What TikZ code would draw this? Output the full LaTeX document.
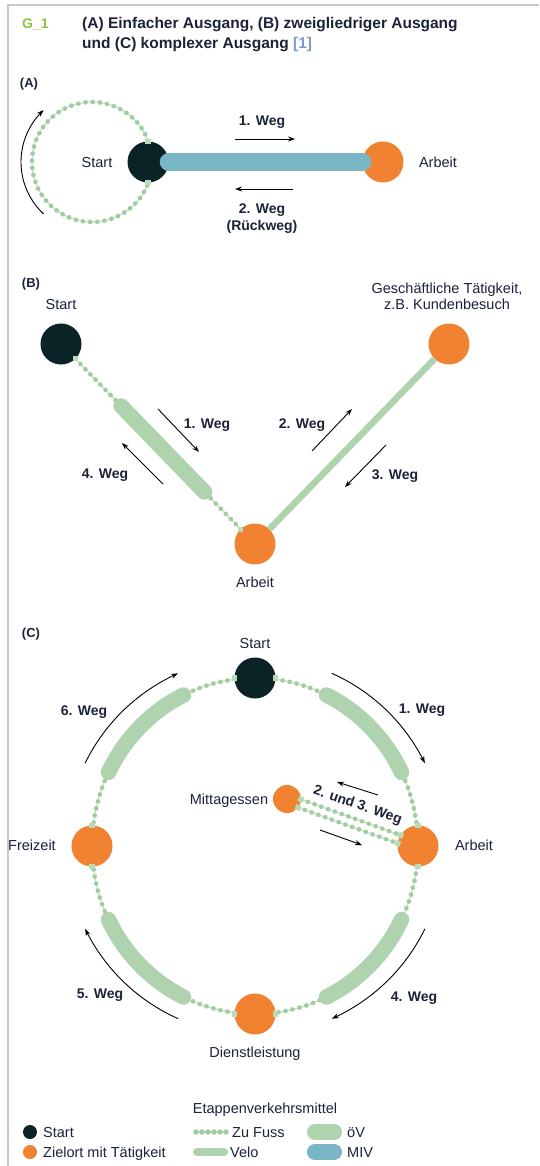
\documentclass[tikz,border=0pt]{standalone}
\usepackage{fontspec}
\setmainfont{Liberation Sans}
\usetikzlibrary{calc,arrows.meta}
\definecolor{startcol}{HTML}{0B2226}
\definecolor{zielcol}{HTML}{F08232}
\definecolor{oevcol}{HTML}{AED3AE}
\definecolor{fusscol}{HTML}{A0CDA0}
\definecolor{fusslinecol}{HTML}{C4E2C4}
\definecolor{sqcol}{HTML}{B8DCB8}
\definecolor{mivcol}{HTML}{78B5C5}
\definecolor{txtcol}{HTML}{1C2338}
\definecolor{framecol}{HTML}{C8C8C8}
\definecolor{gcol}{HTML}{8CC63F}
\definecolor{refcol}{HTML}{7D9CC8}
\begin{document}
\begin{tikzpicture}[x=1pt,y=-1pt,
  every node/.style={text=txtcol},
  lbl/.style={font=\fontsize{14.5}{16}\selectfont, inner sep=0pt, text height=10.4pt, text depth=0pt},
  wlbl/.style={font=\bfseries\fontsize{14}{16}\selectfont, inner sep=0pt, text height=10.2pt, text depth=0pt},
  seclbl/.style={font=\bfseries\fontsize{13}{15}\selectfont, inner sep=0pt, text height=9.4pt, text depth=0pt},
  startdot/.style={circle, fill=startcol, minimum size=41pt, inner sep=0pt},
  zieldot/.style={circle, fill=zielcol, minimum size=41pt, inner sep=0pt},
  fuss/.style={draw=fusscol, line width=4.7pt, line cap=round, dash pattern=on 0pt off 7.2pt,
     preaction={draw=fusslinecol, line width=1.2pt, solid, line cap=butt}},
  velo/.style={draw=oevcol, line width=6.5pt},
  oev/.style={draw=oevcol, line width=15.5pt, line cap=round},
  miv/.style={draw=mivcol, line width=18pt, line cap=round},
  sqmark/.style={rectangle, fill=sqcol, minimum size=5.5pt, inner sep=0pt},
  warrow/.style={draw=black, line width=0.9pt, -{Stealth[length=7pt,width=5pt]}},
]
\useasboundingbox (0,0) rectangle (539,1166);
\fill[white] (0,0) rectangle (539,1166);
\draw[framecol, line width=2pt] (8,1166) -- (8,5) -- (539,5);

% header
\node[font=\bfseries\fontsize{14}{16}\selectfont, text=gcol, anchor=base west, inner sep=0pt] (g1) at (22,29) {G\_1};
\node[font=\bfseries\fontsize{15.5}{20}\selectfont, anchor=base west, inner sep=0pt] (title1) at (82,29)
  {(A) Einfacher Ausgang, (B) zweigliedriger Ausgang};
\node[font=\bfseries\fontsize{15.5}{20}\selectfont, anchor=base west, inner sep=0pt] (title2) at (82,49)
  {und (C) komplexer Ausgang {\color{refcol}[1]}};

% ---------------- (A)
\node[seclbl] (labA) at (29,83) {(A)};
\node[startdot] (startA) at (148,162) {};
\node[zieldot] (arbA) at (383,162) {};
\draw[fuss] plot[domain=-20.6:-339.4, samples=80] ({92+60*cos(\x)},{162+60*sin(\x)});
\draw[miv] (startA) -- (arbA);
\node[sqmark] (sqA1) at (startA.north) {};
\node[sqmark] (sqA2) at (startA.south) {};
\draw[warrow] plot[domain=133:227, samples=40] ({92+71*cos(\x)},{162+71*sin(\x)});
\node[lbl] (tStartA) at (97,162) {Start};
\node[lbl] (tArbA) at (438,162) {Arbeit};
\node[wlbl] (w1A) at (262,120) {1. Weg};
\coordinate (a1s) at (235,139); \coordinate (a1e) at (295,139);
\draw[warrow] (a1s) -- (a1e);
\coordinate (a2s) at (293,189); \coordinate (a2e) at (235,189);
\draw[warrow] (a2s) -- (a2e);
\node[font=\bfseries\fontsize{14}{17}\selectfont, align=center, inner sep=0pt] (w2A) at (262,219) {2. Weg\\(Rückweg)};

% ---------------- (B)
\node[seclbl] (labB) at (31,283) {(B)};
\node[startdot] (startB) at (61,344) {};
\node[zieldot] (gesB) at (449,344) {};
\node[zieldot] (arbB) at (255,544) {};
\draw[fuss] (startB) -- (arbB);
\draw[oev] ($(startB)!0.31!(arbB)$) -- ($(startB)!0.74!(arbB)$);
\draw[velo] (arbB) -- (gesB);
\node[sqmark] (sqB1) at ($(startB)!20.5pt!(arbB)$) {};
\node[sqmark] (sqB2) at ($(arbB)!20.5pt!(startB)$) {};
\node[lbl] (tStartB) at (61,304) {Start};
\node[font=\fontsize{14.5}{16}\selectfont, align=center, inner sep=0pt] (tGesB) at (447,296) {Geschäftliche Tätigkeit,\\z.B. Kundenbesuch};
\node[lbl] (tArbB) at (255,582) {Arbeit};
\coordinate (b1s) at (158,409); \coordinate (b1e) at (199,452);
\coordinate (b4s) at (163,484); \coordinate (b4e) at (122,443);
\coordinate (b2s) at (312,451); \coordinate (b2e) at (352,409);
\coordinate (b3s) at (386,445); \coordinate (b3e) at (345,487);
\draw[warrow] (b1s) -- (b1e);
\draw[warrow] (b4s) -- (b4e);
\draw[warrow] (b2s) -- (b2e);
\draw[warrow] (b3s) -- (b3e);
\node[wlbl] (w1B) at (207,423) {1. Weg};
\node[wlbl] (w4B) at (105,473) {4. Weg};
\node[wlbl] (w2B) at (302,423) {2. Weg};
\node[wlbl] (w3B) at (395,474) {3. Weg};

% ---------------- (C)
\node[seclbl] (labC) at (31,633) {(C)};
\node[startdot] (startC) at (255,678) {};
\node[zieldot] (arbC) at (418,846) {};
\node[zieldot] (freiC) at (92,846) {};
\node[zieldot] (dienC) at (255,1014) {};
\node[zieldot, minimum size=28pt] (mittC) at (287,799) {};
% dotted quadrants
\draw[fuss] plot[domain=-82.8:-7, samples=60] ({255+163*cos(\x)},{846+168*sin(\x)});
\draw[fuss] plot[domain=7:82.8, samples=60] ({255+163*cos(\x)},{846+168*sin(\x)});
\draw[fuss] plot[domain=97.2:173, samples=60] ({255+163*cos(\x)},{846+168*sin(\x)});
\draw[fuss] plot[domain=-97.2:-173, samples=60] ({255+163*cos(\x)},{846+168*sin(\x)});
% oeV arcs
\draw[oev] plot[domain=-64:-26, samples=40] ({255+163*cos(\x)},{846+168*sin(\x)});
\draw[oev] plot[domain=26:64, samples=40] ({255+163*cos(\x)},{846+168*sin(\x)});
\draw[oev] plot[domain=116:154, samples=40] ({255+163*cos(\x)},{846+168*sin(\x)});
\draw[oev] plot[domain=-116:-154, samples=40] ({255+163*cos(\x)},{846+168*sin(\x)});
% square marks
\node[sqmark] (sqC1) at (startC.west) {};
\node[sqmark] (sqC2) at (startC.east) {};
\node[sqmark] (sqC3) at (arbC.north) {};
\node[sqmark] (sqC4) at (arbC.south) {};
\node[sqmark] (sqC5) at (freiC.north) {};
\node[sqmark] (sqC6) at (freiC.south) {};
\node[sqmark] (sqC7) at (dienC.west) {};
\node[sqmark] (sqC8) at (dienC.east) {};
% Mittagessen double path
\coordinate (m1a) at (301,799.4); \coordinate (m1b) at (400.6,835.2);
\coordinate (m2a) at (298,807.5); \coordinate (m2b) at (397.7,843.3);
\draw[fuss] (m1a) -- (m1b);
\draw[fuss] (m2a) -- (m2b);
\node[sqmark, rotate=-20] (sqM1) at (m1a) {};
\node[sqmark, rotate=-20] (sqM2) at (m2a) {};
\node[sqmark, rotate=-20] (sqM3) at (m1b) {};
\node[sqmark, rotate=-20] (sqM4) at (m2b) {};
% arrows
\draw[warrow] plot[domain=-66:-26, samples=40] ({255+189*cos(\x)},{846+189*sin(\x)});
\draw[warrow] plot[domain=26:66, samples=40] ({255+189*cos(\x)},{846+189*sin(\x)});
\draw[warrow] plot[domain=114:154, samples=40] ({255+189*cos(\x)},{846+189*sin(\x)});
\draw[warrow] plot[domain=-154:-114, samples=40] ({255+189*cos(\x)},{846+189*sin(\x)});
\coordinate (c2s) at (378,795); \coordinate (c2e) at (337,782);
\coordinate (c3s) at (320,830); \coordinate (c3e) at (362,845);
\draw[warrow] (c2s) -- (c2e);
\draw[warrow] (c3s) -- (c3e);
% labels
\node[lbl] (tStartC) at (255,643) {Start};
\node[lbl] (tArbC) at (474,845) {Arbeit};
\node[lbl] (tFreiC) at (32,845) {Freizeit};
\node[lbl] (tMittC) at (229,799) {Mittagessen};
\node[lbl] (tDienC) at (255,1052) {Dienstleistung};
\node[wlbl] (w1C) at (422,708) {1. Weg};
\node[wlbl] (w6C) at (84,710) {6. Weg};
\node[wlbl] (w5C) at (100,993) {5. Weg};
\node[wlbl] (w4C) at (414,996) {4. Weg};
\node[wlbl, rotate=-19] (w23C) at (358,804) {2. und 3. Weg};

% ---------------- legend
\node[lbl] (tLeg) at (265,1108) {Etappenverkehrsmittel};
\node[circle, fill=startcol, minimum size=14pt, inner sep=0pt] (legS) at (30,1132) {};
\node[circle, fill=zielcol, minimum size=14pt, inner sep=0pt] (legZ) at (30,1152) {};
\node[lbl, anchor=west] (tLegS) at (43,1132) {Start};
\node[lbl, anchor=west] (tLegZ) at (43,1152) {Zielort mit Tätigkeit};
\coordinate (lf1) at (196,1132); \coordinate (lf2) at (226,1132);
\draw[fuss, line width=5.5pt, dash pattern=on 0pt off 6pt] (lf1) -- (lf2);
\node[lbl, anchor=west] (tLegF) at (232,1132) {Zu Fuss};
\coordinate (lv1) at (197,1152); \coordinate (lv2) at (224,1152);
\draw[velo, line width=8pt, line cap=round] (lv1) -- (lv2);
\node[lbl, anchor=west] (tLegV) at (230,1152) {Velo};
\coordinate (lo1) at (315,1132); \coordinate (lo2) at (334,1132);
\draw[oev, line width=16pt] (lo1) -- (lo2);
\node[lbl, anchor=west] (tLegO) at (347,1132) {öV};
\coordinate (lm1) at (315,1152); \coordinate (lm2) at (334,1152);
\draw[miv, line width=16pt] (lm1) -- (lm2);
\node[lbl, anchor=west] (tLegM) at (347,1152) {MIV};
\end{tikzpicture}
\end{document}
